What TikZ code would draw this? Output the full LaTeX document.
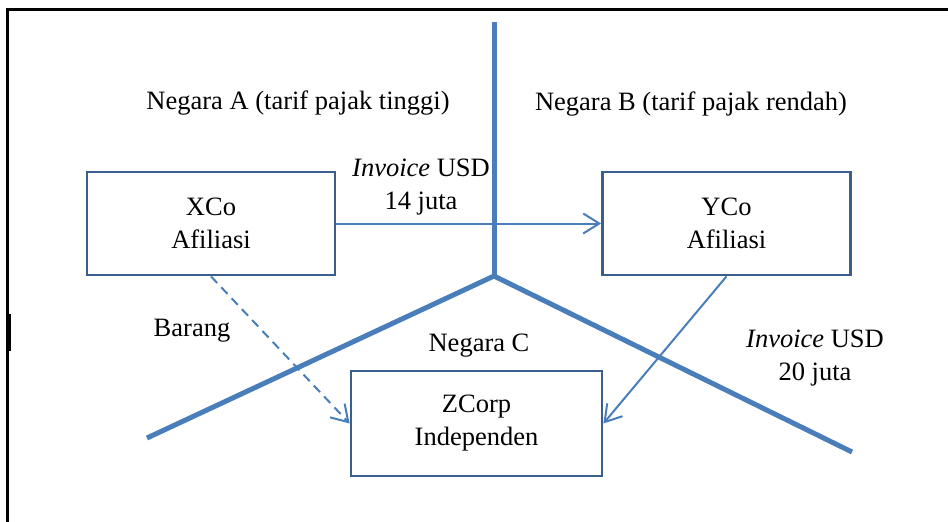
\documentclass[tikz,border=0pt]{standalone}
\usepackage{fontspec}
\setmainfont{Liberation Serif}
\usetikzlibrary{arrows.meta}
\definecolor{axisblue}{HTML}{4A7EBB}
\definecolor{boxblue}{HTML}{3A5F8F}
\begin{document}
\begin{tikzpicture}[x=1pt,y=-1pt,
  txt/.style={font=\fontsize{26.5}{33}\selectfont, text=black, align=center, inner sep=0pt},
  entity/.style={draw=boxblue, line width=2.8pt, minimum width=248pt, minimum height=103pt, inner sep=0pt, font=\fontsize{26.5}{33}\selectfont, align=center},
  border/.style={draw=axisblue, line width=5pt},
  flow/.style={draw=axisblue, line width=2pt, -{Straight Barb[length=16pt,width=20pt,line width=2pt]}}]
  \useasboundingbox (0,0) rectangle (948,522);
  % frame
  \draw[line width=3pt] (7.5,524) -- (7.5,9.5) -- (950,9.5);
  \fill (6,314) rectangle (10.5,351);
  % country borders
  \coordinate (top) at (494,22);
  \coordinate (j) at (494,276);
  \coordinate (lend) at (147,438);
  \coordinate (rend) at (852,452);
  \draw[border] (top) -- (j);
  \draw[border, line cap=butt] (lend) -- (j) -- (rend);
  % entities
  \node[entity] (xco) at (211,223.5) {XCo\\Afiliasi};
  \node[entity] (yco) at (726.5,223.5) {YCo\\Afiliasi};
  \node[entity, minimum width=251pt, minimum height=105pt] (zcorp) at (476.5,423.5) {ZCorp\\Independen};
  % labels
  \node[txt] (na) at (298,103) {Negara A (tarif pajak tinggi)};
  \node[txt] (nb) at (691,104) {Negara B (tarif pajak rendah)};
  \node[txt] (nc) at (479,346) {Negara C};
  \node[txt] (inv1) at (421,187.5) {\textit{Invoice} USD\\14 juta};
  \node[txt] (inv2) at (815,358) {\textit{Invoice} USD\\20 juta};
  \node[txt] (brg) at (192,331) {Barang};
  % flows
  \draw[flow] (xco.east) -- (yco.west);
  \draw[flow, dashed, dash pattern=on 9pt off 6pt] (xco.south) -- (zcorp.west);
  \draw[flow] (yco.south) -- (zcorp.east);
\end{tikzpicture}
\end{document}
